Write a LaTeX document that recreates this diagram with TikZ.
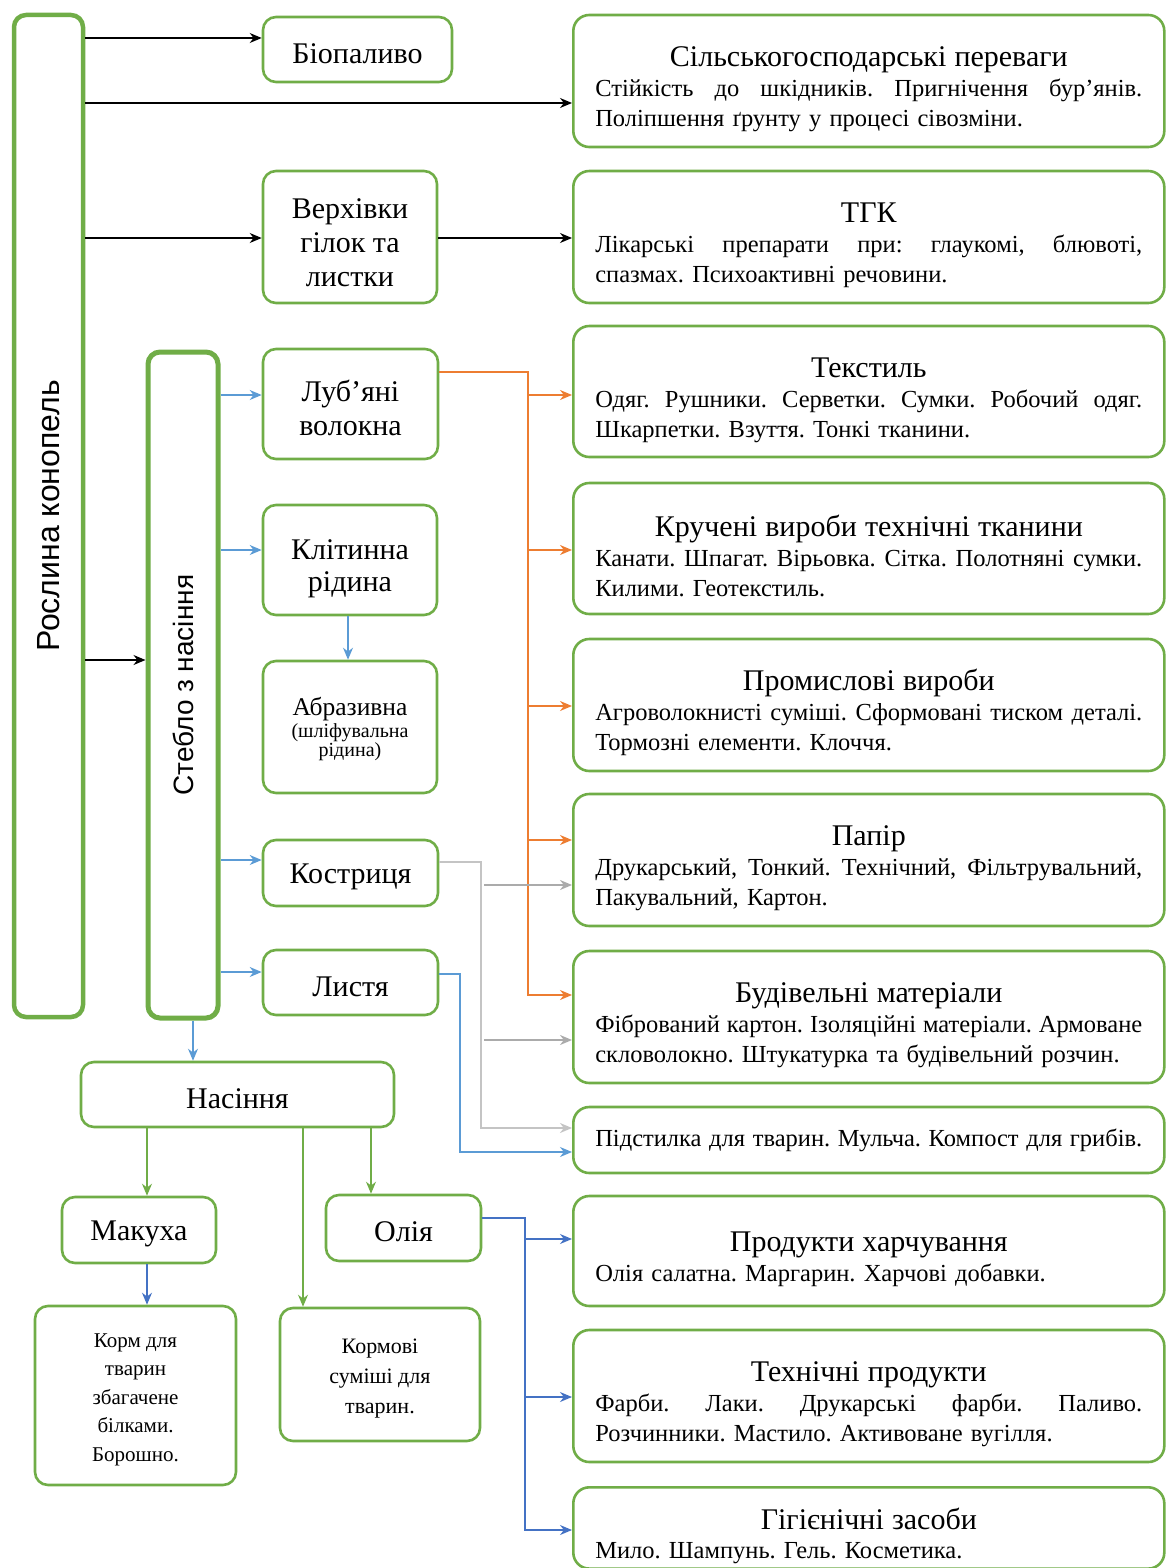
\documentclass[tikz,border=0pt]{standalone}
\usepackage{fontspec}
\setmainfont{Liberation Serif}
\setsansfont{Liberation Sans}
\usepackage{graphicx}
\usetikzlibrary{arrows.meta}

\definecolor{leafgreen}{HTML}{70AD47}
\definecolor{fibreorange}{HTML}{ED7D31}
\definecolor{stemblue}{HTML}{5B9BD5}
\definecolor{oilblue}{HTML}{4472C4}
\definecolor{shivgray}{HTML}{ABABAB}
\definecolor{shivlight}{HTML}{C4C4C4}

\newcommand{\usetitle}[1]{\makebox[\linewidth][c]{\rule{0pt}{37pt}\fontsize{30}{30}\selectfont #1}}
\newcommand{\fullline}[1]{\leavevmode\hbox to\hsize{\spaceskip=0.25em plus 1fil minus 0.1em\relax #1}}
\frenchspacing

\tikzset{
  lift/.style={execute at begin node={\rule{0pt}{#1}}},
  plantbox/.style={draw=leafgreen, line width=2.6pt, rounded corners=13pt, fill=white,
    inner sep=2pt, align=center, font=\rmfamily\fontsize{30}{34}\selectfont, lift=28pt},
  stalkbox/.style={draw=leafgreen, line width=4.5pt, rounded corners=12pt, fill=white,
    inner sep=2pt, font=\sffamily\fontsize{28}{30}\selectfont},
  usebox/.style={draw=leafgreen, line width=2.6pt, rounded corners=16pt, fill=white,
    anchor=west, text width=547pt, inner xsep=22pt, inner ysep=10pt, align=left,
    font=\rmfamily\fontsize{24.5}{30}\selectfont},
  arr/.style={-{Stealth[length=12pt,width=10pt]}, line width=1.3pt},
  blackarr/.style={arr, black},
  stemarr/.style={arr, stemblue},
  fibrearr/.style={arr, fibreorange},
  shivarr/.style={arr, shivgray, line width=1.5pt},
  seedarr/.style={arr, leafgreen},
  oilarr/.style={arr, oilblue}
}

\begin{document}
\begin{tikzpicture}[x=1pt, y=-1pt]
\useasboundingbox (0,0) rectangle (1165,1568);

% Plant and stalk
\node [stalkbox, minimum width=69, minimum height=1002, font=\sffamily\fontsize{32}{34}\selectfont] (root) at (48.5,516) {\rotatebox{90}{Рослина конопель}};
\node [stalkbox, minimum width=70, minimum height=666, line width=5pt] (stem) at (183,685) {\rotatebox{90}{Стебло з насіння}};

% Parts of the plant
\node [plantbox, minimum width=189, minimum height=65] (bio) at (357.5,49.5) {Біопаливо};
\node [plantbox, minimum width=174, minimum height=132] (tops) at (350,237) {\rule{0pt}{31pt}Верхівки\\гілок та\\листки};
\node [plantbox, minimum width=175, minimum height=110] (bast) at (350.5,404) {\rule{0pt}{29pt}Луб’яні\\волокна};
\node [plantbox, minimum width=174, minimum height=110, font=\rmfamily\fontsize{30}{32}\selectfont] (sap) at (350,560) {\rule{0pt}{37pt}Клітинна\\рідина};
\node [plantbox, minimum width=174, minimum height=132, font=\rmfamily\fontsize{20}{19}\selectfont] (abras) at (350,727) {\rule{0pt}{22pt}{\fontsize{25.5}{19}\selectfont Абразивна}\\[2pt](шліфувальна\\рідина)};
\node [plantbox, minimum width=175, minimum height=66] (hurd) at (350.5,873) {Костриця};
\node [plantbox, minimum width=175, minimum height=65] (leaves) at (350.5,982.5) {Листя};

% Seeds
\node [plantbox, minimum width=313, minimum height=65] (seed) at (237.5,1094.5) {Насіння};
\node [plantbox, minimum width=154, minimum height=66] (cake) at (139,1230) {Макуха};
\node [plantbox, minimum width=155, minimum height=66] (oil) at (403.5,1228) {Олія};
\node [plantbox, minimum width=201, minimum height=179, font=\rmfamily\fontsize{21}{28.5}\selectfont] (feed) at (135.5,1395.5) {\rule{0pt}{22pt}Корм для\\тварин\\збагачене\\білками.\\Борошно.};
\node [plantbox, minimum width=200, minimum height=133, font=\rmfamily\fontsize{22}{30}\selectfont] (mix) at (380,1374.5) {\rule{0pt}{22pt}Кормові\\суміші для\\тварин.};

% Uses
\node [usebox, minimum height=132] (agro) at (572,81) {\usetitle{Сільськогосподарські переваги}\\\fullline{Стійкість до шкідників. Пригнічення бур’янів.}\\Поліпшення ґрунту у процесі сівозміни.};
\node [usebox, minimum height=132] (thc) at (572,237) {\usetitle{ТГК}\\\fullline{Лікарські препарати при: глаукомі, блювоті,}\\спазмах. Психоактивні речовини.};
\node [usebox, minimum height=131] (textile) at (572,391.5) {\usetitle{Текстиль}\\\fullline{Одяг. Рушники. Серветки. Сумки. Робочий одяг.}\\Шкарпетки. Взуття. Тонкі тканини.};
\node [usebox, minimum height=131] (twine) at (572,548.5) {\usetitle{Кручені вироби технічні тканини}\\\fullline{Канати. Шпагат. Вірьовка. Сітка. Полотняні сумки.}\\Килими. Геотекстиль.};
\node [usebox, minimum height=132] (industry) at (572,705) {\usetitle{Промислові вироби}\\\fullline{Агроволокнисті суміші. Сформовані тиском деталі.}\\Тормозні елементи. Клоччя.};
\node [usebox, minimum height=132] (paper) at (572,860) {\usetitle{Папір}\\\fullline{Друкарський, Тонкий. Технічний, Фільтрувальний,}\\Пакувальний, Картон.};
\node [usebox, minimum height=132] (build) at (572,1017) {\usetitle{Будівельні матеріали}\\\fullline{Фібрований картон. Ізоляційні матеріали. Армоване}\\скловолокно. Штукатурка та будівельний розчин.};
\node [usebox, minimum height=66] (bedding) at (572,1140) {\fullline{Підстилка для тварин. Мульча. Компост для грибів.}};
\node [usebox, minimum height=110] (food) at (572,1251) {\usetitle{Продукти харчування}\\Олія салатна. Маргарин. Харчові добавки.};
\node [usebox, minimum height=132] (tech) at (572,1396) {\usetitle{Технічні продукти}\\\fullline{Фарби. Лаки. Друкарські фарби. Паливо.}\\Розчинники. Мастило. Активоване вугілля.};
\node [usebox, anchor=north west, inner ysep=5pt, font=\rmfamily\fontsize{24.5}{29}\selectfont] (hygiene) at (572,1486) {\usetitle{Гігієнічні засоби}\\Мило. Шампунь. Гель. Косметика.};

% Plant arrows
\draw [blackarr] (root.east |- 0,38) -- (bio.west |- 0,38);
\draw [blackarr] (root.east |- 0,103) -- (agro.west |- 0,103);
\draw [blackarr] (root.east |- 0,238) -- (tops.west |- 0,238);
\draw [blackarr] (tops.east |- 0,238) -- (thc.west |- 0,238);
\draw [blackarr] (root.east |- 0,660) -- (stem.west |- 0,660);

% Stalk arrows
\draw [stemarr] (stem.east |- 0,395) -- (bast.west |- 0,395);
\draw [stemarr] (stem.east |- 0,550) -- (sap.west |- 0,550);
\draw [stemarr] (348,0 |- sap.south) -- (348,0 |- abras.north);
\draw [stemarr] (stem.east |- 0,860) -- (hurd.west |- 0,860);
\draw [stemarr] (stem.east |- 0,972) -- (leaves.west |- 0,972);
\draw [stemarr] (193,0 |- stem.south) -- (193,0 |- seed.north);

% Fibre bus
\coordinate (fjoin) at (528,372);
\draw [fibrearr] (bast.east |- fjoin) -- (fjoin) |- (build.west |- 0,995);
\foreach \n/\y in {textile/395, twine/550, industry/706, paper/840}
  \draw [fibrearr] (fjoin |- 0,\y) -- (\n.west |- 0,\y);

% Hurd bus
\coordinate (hjoin) at (481,862);
\draw [shivarr, shivlight, line width=2.2pt] (hurd.east |- hjoin) -- (hjoin) |- (bedding.west |- 0,1128);
\foreach \n/\y in {paper/885, build/1040}
  \draw [shivarr] (484,\y) -- (\n.west |- 0,\y);

% Leaves
\coordinate (ljoin) at (460,974);
\draw [stemarr] (leaves.east |- ljoin) -- (ljoin) |- (bedding.west |- 0,1152);

% Seed arrows
\draw [seedarr] (147,0 |- seed.south) -- (147,0 |- cake.north);
\draw [seedarr] (303,0 |- seed.south) -- (303,0 |- mix.north);
\draw [seedarr] (371,0 |- seed.south) -- (371,0 |- oil.north);
\draw [oilarr] (147,0 |- cake.south) -- (147,0 |- feed.north);

% Oil bus
\coordinate (ojoin) at (525,1218);
\draw [oilarr] (oil.east |- ojoin) -- (ojoin) |- (hygiene.west |- 0,1530);
\foreach \n/\y in {food/1239, tech/1397}
  \draw [oilarr] (ojoin |- 0,\y) -- (\n.west |- 0,\y);

\end{tikzpicture}
\end{document}
